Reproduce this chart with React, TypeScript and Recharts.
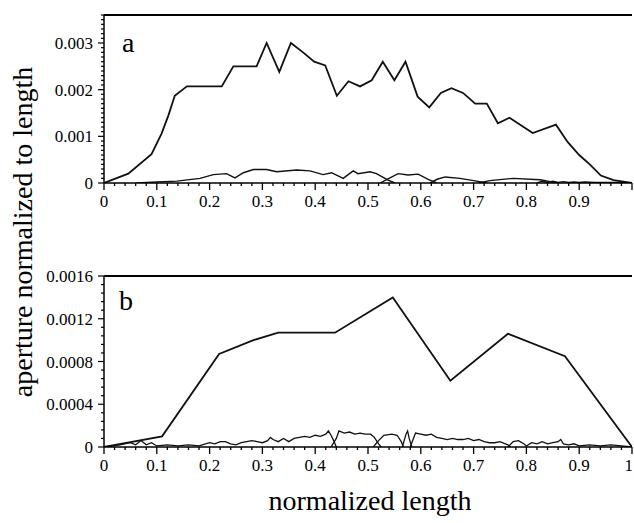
import React from 'react';
import { LineChart, Line, XAxis, YAxis, ReferenceLine } from 'recharts';

// ---------- tick labels ----------
const xMajorTicks = [0, 0.1, 0.2, 0.3, 0.4, 0.5, 0.6, 0.7, 0.8, 0.9, 1];
const xLabelsTop = ['0', '0.1', '0.2', '0.3', '0.4', '0.5', '0.6', '0.7', '0.8', '0.9', ''];
const xLabelsBottom = ['0', '0.1', '0.2', '0.3', '0.4', '0.5', '0.6', '0.7', '0.8', '0.9', '1'];
const yMajorTop = [0, 0.001, 0.002, 0.003];
const yLabelsTop = ['0', '0.001', '0.002', '0.003'];
const yMajorBottom = [0, 0.0004, 0.0008, 0.0012, 0.0016];
const yLabelsBottom = ['0', '0.0004', '0.0008', '0.0012', '0.0016'];

// ---------- panel a ----------
const aMainX = [0, 0.046, 0.09, 0.109, 0.122, 0.134, 0.157, 0.223, 0.245, 0.289, 0.308, 0.332, 0.354, 0.377, 0.398, 0.419, 0.441, 0.463, 0.485, 0.507, 0.528, 0.55, 0.571, 0.594, 0.616, 0.638, 0.658, 0.68, 0.703, 0.725, 0.746, 0.768, 0.812, 0.856, 0.878, 0.9, 0.92, 0.941, 0.965, 1.0];
const aMainY = [0, 0.0002, 0.00062, 0.00106, 0.00145, 0.00187, 0.00207, 0.00207, 0.0025, 0.0025, 0.003, 0.00238, 0.003, 0.0028, 0.0026, 0.00252, 0.00187, 0.00218, 0.00207, 0.0022, 0.0026, 0.0022, 0.0026, 0.00185, 0.00162, 0.00193, 0.00203, 0.00193, 0.0017, 0.0017, 0.00128, 0.0014, 0.00107, 0.00125, 0.00088, 0.0006, 0.0004, 0.00016, 0.00006, 0];

const a1X = [0.062, 0.1, 0.138, 0.182, 0.207, 0.232, 0.248, 0.264, 0.283, 0.308, 0.327, 0.365, 0.39, 0.415, 0.431, 0.453, 0.472, 0.481, 0.504, 0.516, 0.538, 0.551];
const a1Y = [0, 0.00002, 0.00004, 0.0001, 0.00018, 0.0002, 0.00011, 0.00022, 0.00029, 0.00029, 0.00024, 0.00028, 0.00026, 0.00018, 0.00022, 0.0001, 0.00026, 0.0002, 0.00024, 0.0002, 0.00006, 0];
const a2X = [0.523, 0.538, 0.557, 0.576, 0.595, 0.614, 0.63];
const a2Y = [0, 0.00009, 0.0002, 0.00017, 0.00019, 0.00008, 0];
const a3X = [0.617, 0.631, 0.646, 0.674, 0.7, 0.725];
const a3Y = [0, 0.00008, 0.00013, 0.0001, 0.00005, 0];
const a4X = [0.709, 0.731, 0.775, 0.826, 0.857];
const a4Y = [0, 0.00005, 0.0001, 0.00007, 0];
const a5X = [0.82, 0.83, 0.84, 0.85, 0.86, 0.87, 0.88, 0.89, 0.9, 0.91, 0.93, 0.95, 0.97, 1.0];
const a5Y = [0, 0.00004, 0.00001, 0.00004, 0.00001, 0.00003, 0.00001, 0.00002, 0.00001, 0.00002, 0.00001, 0.00001, 0.00001, 0];

// ---------- panel b ----------
const bMainX = [0, 0.11, 0.218, 0.283, 0.33, 0.4375, 0.547, 0.656, 0.765, 0.873, 1.0];
const bMainY = [0, 0.0001, 0.00087, 0.001, 0.00107, 0.00107, 0.0014, 0.00062, 0.00106, 0.00085, 0];

const b1X = [0, 0.03, 0.05, 0.06, 0.07, 0.08, 0.09, 0.1, 0.12, 0.14, 0.16, 0.18, 0.2, 0.21, 0.22, 0.23, 0.24, 0.25, 0.26, 0.27, 0.28, 0.29, 0.3, 0.31, 0.315, 0.32, 0.33, 0.34, 0.35, 0.36, 0.37, 0.38, 0.39, 0.4, 0.41, 0.42, 0.425, 0.43, 0.435, 0.44];
const b1Y = [0, 0.00002, 0.00004, 0.00002, 0.00006, 0.00002, 0.00004, 0.00001, 0.00002, 0.00001, 0.00002, 0.00001, 0.00004, 0.00003, 0.00005, 0.00005, 0.00003, 0.00002, 0.00004, 0.00005, 0.00006, 0.00005, 0.00004, 0.00006, 0.00009, 0.00007, 0.00005, 0.00008, 0.00005, 0.00008, 0.00009, 0.0001, 0.00009, 0.00011, 0.0001, 0.00012, 0.00015, 0.00011, 0.00006, 0];
const b2X = [0.43, 0.44, 0.445, 0.455, 0.465, 0.475, 0.485, 0.495, 0.505, 0.512, 0.52, 0.525];
const b2Y = [0, 0.00008, 0.00015, 0.00013, 0.00014, 0.00012, 0.00013, 0.00012, 0.00012, 0.00009, 0.00003, 0];
const b3X = [0.51, 0.52, 0.53, 0.545, 0.555, 0.563, 0.567];
const b3Y = [0, 0.00006, 0.00011, 0.00012, 0.00011, 0.00005, 0];
const b4X = [0.565, 0.572, 0.575, 0.578, 0.583];
const b4Y = [0, 0.00012, 0.00015, 0.00008, 0];
const b5X = [0.58, 0.59, 0.6, 0.61, 0.62, 0.63, 0.64, 0.65, 0.66, 0.67, 0.68, 0.69, 0.7, 0.71, 0.72, 0.73, 0.74, 0.75, 0.76, 0.765, 0.77];
const b5Y = [0, 0.00013, 0.00012, 0.00011, 0.00012, 0.00009, 0.00008, 0.00007, 0.00008, 0.00007, 0.00007, 0.00008, 0.00006, 0.00007, 0.00005, 0.00004, 0.00004, 0.00005, 0.00003, 0.00002, 0];
const b6X = [0.765, 0.775, 0.785, 0.795, 0.8, 0.81, 0.82, 0.83, 0.84, 0.85, 0.86, 0.865, 0.87, 0.88, 0.89, 0.9, 0.92, 0.94, 0.96, 0.98, 1.0];
const b6Y = [0, 0.00005, 0.00006, 0.00003, 0.00001, 0.00004, 0.00003, 0.00005, 0.00003, 0.00004, 0.00005, 0.00007, 0.00003, 0.00002, 0.00003, 0.00001, 0.00002, 0.00001, 0.00002, 0.00001, 0];

const pts = (xs: number[], ys: number[]) => xs.map((x, i) => ({ x, y: ys[i] }));

const xMinor = Array.from({ length: 51 }, (_, i) => Number((i * 0.02).toFixed(4)));
const yMinorTop = Array.from({ length: 37 }, (_, i) => Number((i * 0.0001).toFixed(6)));
const yMinorBottom = Array.from({ length: 21 }, (_, i) => Number((i * 0.00008).toFixed(6)));

const SERIF: React.CSSProperties = { fontFamily: '"Liberation Serif", "DejaVu Serif", serif' };

function makeXTick(majors: number[], labels: string[]) {
  return (props: any) => {
    const { x, y, payload } = props;
    const v = payload.value;
    const idx = majors.findIndex((m) => Math.abs(m - v) < 1e-6);
    const major = idx >= 0;
    const isLast = idx === majors.length - 1;
    return (
      <g>
        <line x1={x} y1={y} x2={x} y2={y + (major ? 7 : 3)} stroke="#000" strokeWidth={1.3} />
        {major && labels[idx] ? (
          <text
            x={isLast ? x + 1 : x}
            y={y + 24}
            textAnchor={isLast ? 'end' : 'middle'}
            style={SERIF}
            fontSize={17}
            fill="#000"
          >
            {labels[idx]}
          </text>
        ) : null}
      </g>
    );
  };
}

function makeYTick(majors: number[], labels: string[], tol: number) {
  return (props: any) => {
    const { x, y, payload } = props;
    const v = payload.value;
    const idx = majors.findIndex((m) => Math.abs(m - v) < tol);
    const major = idx >= 0;
    return (
      <g>
        <line x1={x} y1={y} x2={x - (major ? 6 : 3)} y2={y} stroke="#000" strokeWidth={1.2} />
        {major ? (
          <text x={x - 11} y={y + 6} textAnchor="end" style={SERIF} fontSize={17} fill="#000">
            {labels[idx]}
          </text>
        ) : null}
      </g>
    );
  };
}

const lineProps = { type: 'linear' as const, dataKey: 'y', dot: false, isAnimationActive: false, stroke: '#111' };

export default function App() {
  return (
    <div style={{ position: 'absolute', left: 0, top: 0, width: 634, height: 523, background: '#fff', overflow: 'hidden' }}>
      <div style={{ position: 'absolute', left: 0, top: 0 }}>
        <LineChart width={634} height={210} margin={{ top: 15, right: 2, bottom: 0, left: 0 }}>
          <XAxis
            dataKey="x"
            type="number"
            domain={[0, 1]}
            ticks={xMinor}
            interval={0}
            tickSize={0}
            tickMargin={0}
            height={27}
            axisLine={{ stroke: '#000', strokeWidth: 1.5 }}
            tick={makeXTick(xMajorTicks, xLabelsTop)}
            allowDataOverflow
          />
          <YAxis
            type="number"
            domain={[0, 0.0036]}
            ticks={yMinorTop}
            interval={0}
            tickSize={0}
            tickMargin={0}
            width={104}
            axisLine={{ stroke: '#000', strokeWidth: 1.5 }}
            tick={makeYTick(yMajorTop, yLabelsTop, 1e-8)}
            allowDataOverflow
          />
          <ReferenceLine y={0.0036} stroke="#000" strokeWidth={2} />
          <Line {...lineProps} data={pts(aMainX, aMainY)} strokeWidth={1.8} />
          <Line {...lineProps} data={pts(a1X, a1Y)} strokeWidth={1.4} />
          <Line {...lineProps} data={pts(a2X, a2Y)} strokeWidth={1.4} />
          <Line {...lineProps} data={pts(a3X, a3Y)} strokeWidth={1.4} />
          <Line {...lineProps} data={pts(a4X, a4Y)} strokeWidth={1.4} />
          <Line {...lineProps} data={pts(a5X, a5Y)} strokeWidth={1.4} />
        </LineChart>
      </div>
      <div style={{ position: 'absolute', left: 0, top: 261 }}>
        <LineChart width={634} height={213} margin={{ top: 15, right: 2, bottom: 0, left: 0 }}>
          <XAxis
            dataKey="x"
            type="number"
            domain={[0, 1]}
            ticks={xMinor}
            interval={0}
            tickSize={0}
            tickMargin={0}
            height={27}
            axisLine={{ stroke: '#000', strokeWidth: 1.5 }}
            tick={makeXTick(xMajorTicks, xLabelsBottom)}
            allowDataOverflow
          />
          <YAxis
            type="number"
            domain={[0, 0.0016]}
            ticks={yMinorBottom}
            interval={0}
            tickSize={0}
            tickMargin={0}
            width={104}
            axisLine={{ stroke: '#000', strokeWidth: 1.5 }}
            tick={makeYTick(yMajorBottom, yLabelsBottom, 1e-8)}
            allowDataOverflow
          />
          <ReferenceLine y={0.0016} stroke="#000" strokeWidth={2} />
          <Line {...lineProps} data={pts(bMainX, bMainY)} strokeWidth={1.8} />
          <Line {...lineProps} data={pts(b1X, b1Y)} strokeWidth={1.3} />
          <Line {...lineProps} data={pts(b2X, b2Y)} strokeWidth={1.3} />
          <Line {...lineProps} data={pts(b3X, b3Y)} strokeWidth={1.3} />
          <Line {...lineProps} data={pts(b4X, b4Y)} strokeWidth={1.3} />
          <Line {...lineProps} data={pts(b5X, b5Y)} strokeWidth={1.3} />
          <Line {...lineProps} data={pts(b6X, b6Y)} strokeWidth={1.3} />
        </LineChart>
      </div>
      <svg width={634} height={523} style={{ position: 'absolute', left: 0, top: 0, pointerEvents: 'none' }}>
        <text x={122} y={52} style={SERIF} fontSize={28} fill="#000">a</text>
        <text x={119} y={310} style={SERIF} fontSize={28} fill="#000">b</text>
        <text transform="translate(32,232) rotate(-90)" textAnchor="middle" style={SERIF} fontSize={28} fill="#000">
          aperture normalized to length
        </text>
        <text x={370} y={510} textAnchor="middle" style={SERIF} fontSize={28} fill="#000">
          normalized length
        </text>
      </svg>
    </div>
  );
}
